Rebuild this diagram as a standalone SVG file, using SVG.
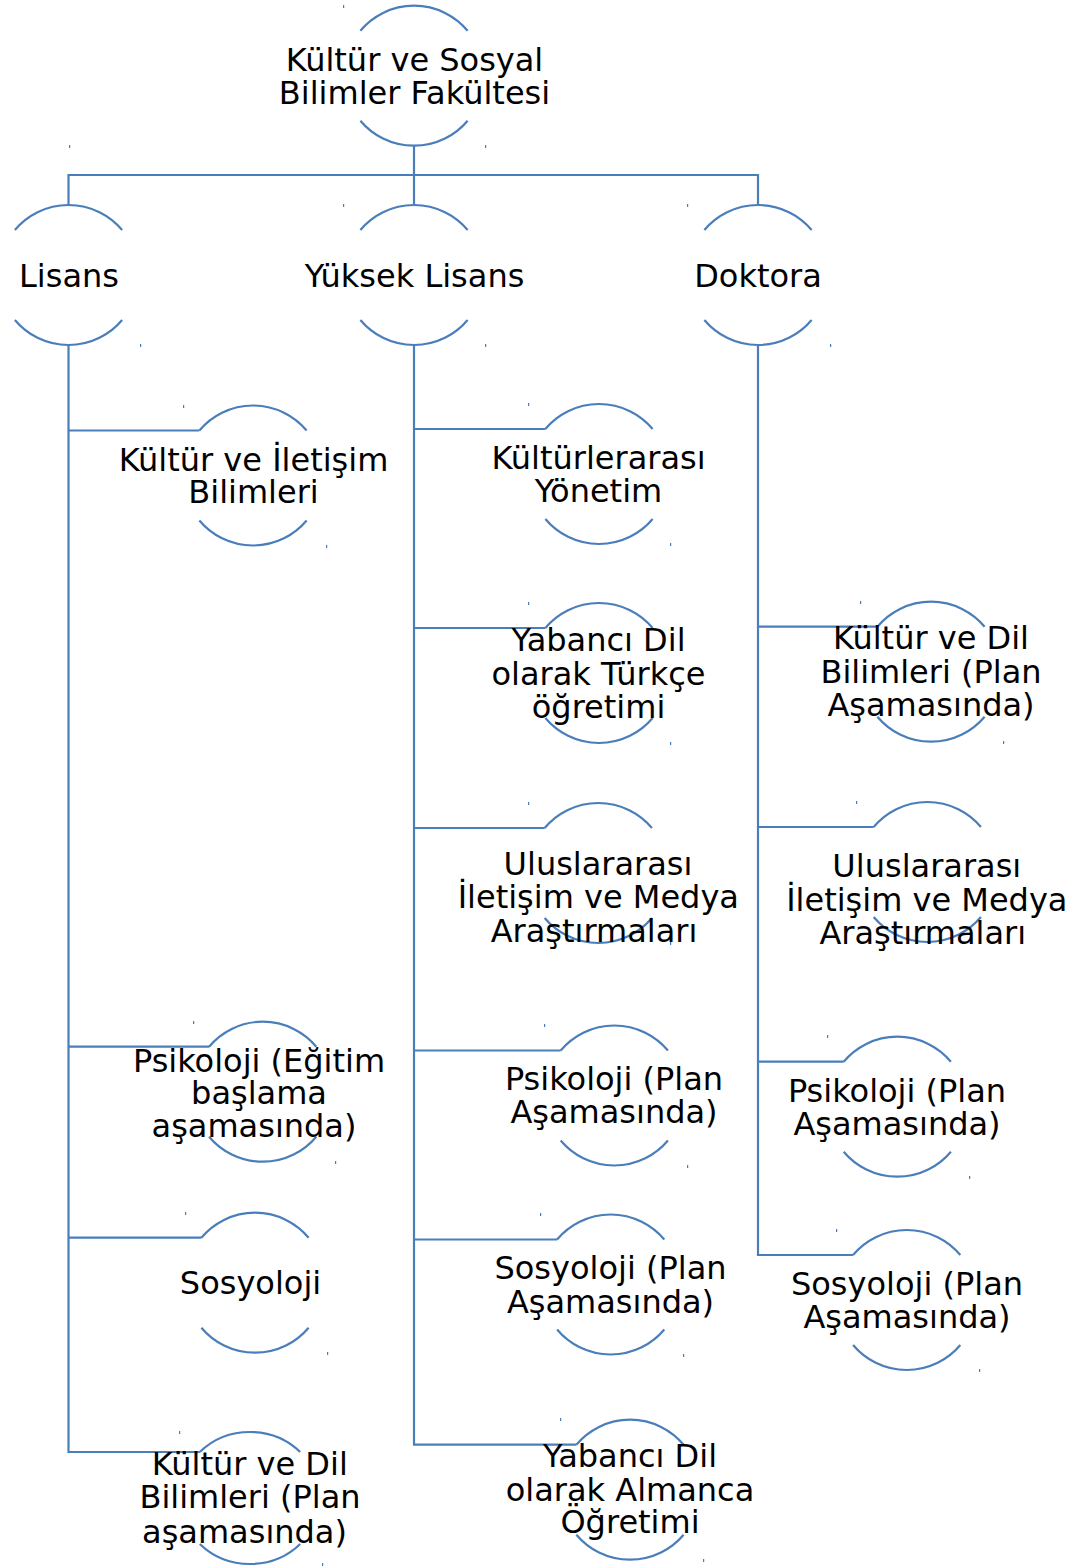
<svg xmlns="http://www.w3.org/2000/svg" width="1087" height="1567" viewBox="0 0 1087 1567">
<style>
.arc{fill:none;stroke:#4A7EBB;stroke-width:2.2}
.cn{fill:none;stroke:#4A7EBB;stroke-width:2.2}
.tk{fill:#4A7EBB}
text{font-family:"DejaVu Sans","Liberation Sans",sans-serif;font-size:32px;fill:#000;text-anchor:middle}
</style>
<rect width="1087" height="1567" fill="#fff"/>
<g id="connectors">
<path class="cn" d="M414,145.7 V205 M68.5,205 V175 H758 V205"/>
<path class="cn" d="M68.5,345 V1452 H199.8 M68.5,430.5 H199.38 M68.5,1046.7 H209.08 M68.5,1237.7 H201.38"/>
<path class="cn" d="M414,345 V1444.7 H576.38 M414,429 H545.38 M414,628 H545.38 M414,828 H544.68 M414,1050.5 H560.68 M414,1239.5 H557.08"/>
<path class="cn" d="M758,345 V1255 H853.08 M758,626.7 H877.38 M758,827 H873.68 M758,1061.7 H843.68"/>
</g>
<g id="ticks">
<rect class="tk" x="343" y="5" width="1.2" height="3"/><rect class="tk" x="485" y="145" width="1.2" height="3"/>
<rect class="tk" x="69" y="145" width="1.2" height="3"/><rect class="tk" x="140" y="344" width="1.2" height="3"/>
<rect class="tk" x="343" y="204" width="1.2" height="3"/><rect class="tk" x="485" y="344" width="1.2" height="3"/>
<rect class="tk" x="687" y="204" width="1.2" height="3"/><rect class="tk" x="830" y="344" width="1.2" height="3"/>
<rect class="tk" x="183" y="405" width="1.2" height="3"/><rect class="tk" x="326" y="545" width="1.2" height="3"/>
<rect class="tk" x="528" y="403" width="1.2" height="3"/><rect class="tk" x="670" y="543" width="1.2" height="3"/>
<rect class="tk" x="528" y="602" width="1.2" height="3"/><rect class="tk" x="670" y="742" width="1.2" height="3"/>
<rect class="tk" x="528" y="802" width="1.2" height="3"/><rect class="tk" x="670" y="942" width="1.2" height="3"/>
<rect class="tk" x="544" y="1024" width="1.2" height="3"/><rect class="tk" x="687" y="1165" width="1.2" height="3"/>
<rect class="tk" x="540" y="1213" width="1.2" height="3"/><rect class="tk" x="683" y="1354" width="1.2" height="3"/>
<rect class="tk" x="560" y="1418" width="1.2" height="3"/><rect class="tk" x="703" y="1559" width="1.2" height="3"/>
<rect class="tk" x="860" y="601" width="1.2" height="3"/><rect class="tk" x="1003" y="741" width="1.2" height="3"/>
<rect class="tk" x="856" y="801" width="1.2" height="3"/><rect class="tk" x="999" y="941" width="1.2" height="3"/>
<rect class="tk" x="827" y="1035" width="1.2" height="3"/><rect class="tk" x="969" y="1176" width="1.2" height="3"/>
<rect class="tk" x="836" y="1229" width="1.2" height="3"/><rect class="tk" x="979" y="1369" width="1.2" height="3"/>
<rect class="tk" x="193" y="1021" width="1.2" height="3"/><rect class="tk" x="335" y="1161" width="1.2" height="3"/>
<rect class="tk" x="185" y="1212" width="1.2" height="3"/><rect class="tk" x="327" y="1352" width="1.2" height="3"/>
<rect class="tk" x="179" y="1431" width="1.2" height="3"/><rect class="tk" x="322" y="1563" width="1.2" height="3"/>
</g>
<g id="n0">
<path class="arc" d="M360.38,30.7 A70,70 0 0 1 467.62,30.7 M360.38,120.7 A70,70 0 0 0 467.62,120.7"/>
<text x="414.5" y="71">Kültür ve Sosyal</text><text x="414.5" y="104.3">Bilimler Fakültesi</text>
</g>
<g id="n1">
<path class="arc" d="M14.88,230 A70,70 0 0 1 122.12,230 M14.88,320 A70,70 0 0 0 122.12,320"/>
<text x="69" y="286.7">Lisans</text>
</g>
<g id="n2">
<path class="arc" d="M360.38,230 A70,70 0 0 1 467.62,230 M360.38,320 A70,70 0 0 0 467.62,320"/>
<text x="414.5" y="286.7">Yüksek Lisans</text>
</g>
<g id="n3">
<path class="arc" d="M704.38,230 A70,70 0 0 1 811.62,230 M704.38,320 A70,70 0 0 0 811.62,320"/>
<text x="758" y="286.7">Doktora</text>
</g>
<g id="n4">
<path class="arc" d="M199.38,430.5 A70,70 0 0 1 306.62,430.5 M199.38,520.5 A70,70 0 0 0 306.62,520.5"/>
<text x="253.5" y="471">Kültür ve İletişim</text><text x="253.5" y="503.3">Bilimleri</text>
</g>
<g id="n5">
<path class="arc" d="M545.38,429 A70,70 0 0 1 652.62,429 M545.38,519 A70,70 0 0 0 652.62,519"/>
<text x="598.5" y="469">Kültürlerarası</text><text x="598.5" y="502">Yönetim</text>
</g>
<g id="n6">
<path class="arc" d="M545.38,628 A70,70 0 0 1 652.62,628 M545.38,718 A70,70 0 0 0 652.62,718"/>
<text x="598.5" y="651">Yabancı Dil</text><text x="598.5" y="684.5">olarak Türkçe</text><text x="598.5" y="717.5">öğretimi</text>
</g>
<g id="n7">
<path class="arc" d="M544.68,828 A70,70 0 0 1 651.92,828 M544.68,918 A70,70 0 0 0 651.92,918"/>
<text x="598" y="874.5">Uluslararası</text><text x="598.3" y="908.3">İletişim ve Medya</text><text x="594" y="942.3">Araştırmaları</text>
</g>
<g id="n8">
<path class="arc" d="M560.68,1050.5 A70,70 0 0 1 667.92,1050.5 M560.68,1140.5 A70,70 0 0 0 667.92,1140.5"/>
<text x="614" y="1090">Psikoloji (Plan</text><text x="614" y="1123.3">Aşamasında)</text>
</g>
<g id="n9">
<path class="arc" d="M557.08,1239.5 A70,70 0 0 1 664.32,1239.5 M557.08,1329.5 A70,70 0 0 0 664.32,1329.5"/>
<text x="610.5" y="1279.3">Sosyoloji (Plan</text><text x="610.5" y="1312.7">Aşamasında)</text>
</g>
<g id="n10">
<path class="arc" d="M576.38,1444.7 A70,70 0 0 1 683.62,1444.7 M576.38,1534.7 A70,70 0 0 0 683.62,1534.7"/>
<text x="630" y="1467.3">Yabancı Dil</text><text x="630" y="1500.7">olarak Almanca</text><text x="630" y="1533.3">Öğretimi</text>
</g>
<g id="n11">
<path class="arc" d="M877.38,626.7 A70,70 0 0 1 984.62,626.7 M877.38,716.7 A70,70 0 0 0 984.62,716.7"/>
<text x="931" y="649">Kültür ve Dil</text><text x="931" y="682.7">Bilimleri (Plan</text><text x="931" y="716">Aşamasında)</text>
</g>
<g id="n12">
<path class="arc" d="M873.68,827 A70,70 0 0 1 980.92,827 M873.68,917 A70,70 0 0 0 980.92,917"/>
<text x="926.8" y="877">Uluslararası</text><text x="926.8" y="910.5">İletişim ve Medya</text><text x="922.8" y="944">Araştırmaları</text>
</g>
<g id="n13">
<path class="arc" d="M843.68,1061.7 A70,70 0 0 1 950.92,1061.7 M843.68,1151.7 A70,70 0 0 0 950.92,1151.7"/>
<text x="897" y="1101.7">Psikoloji (Plan</text><text x="897" y="1135.3">Aşamasında)</text>
</g>
<g id="n14">
<path class="arc" d="M853.08,1255 A70,70 0 0 1 960.32,1255 M853.08,1345 A70,70 0 0 0 960.32,1345"/>
<text x="907" y="1295">Sosyoloji (Plan</text><text x="907" y="1328.3">Aşamasında)</text>
</g>
<g id="n15">
<path class="arc" d="M209.08,1046.7 A70,70 0 0 1 316.32,1046.7 M209.08,1136.7 A70,70 0 0 0 316.32,1136.7"/>
<text x="259" y="1071.7">Psikoloji (Eğitim</text><text x="259" y="1104">başlama</text><text x="254" y="1137.3">aşamasında)</text>
</g>
<g id="n16">
<path class="arc" d="M201.38,1237.7 A70,70 0 0 1 308.62,1237.7 M201.38,1327.7 A70,70 0 0 0 308.62,1327.7"/>
<text x="250.5" y="1294">Sosyoloji</text>
</g>
<g id="n17">
<path class="arc" d="M199.8,1452 A70,66 0 0 1 300.2,1452 M199.8,1544 A70,66 0 0 0 300.2,1544"/>
<text x="249.8" y="1475">Kültür ve Dil</text><text x="250" y="1508.3">Bilimleri (Plan</text><text x="244.5" y="1542.7">aşamasında)</text>
</g>
</svg>
